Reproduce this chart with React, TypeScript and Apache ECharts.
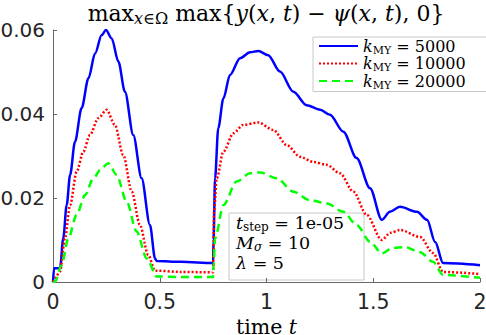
import React, { useEffect, useRef } from "react";
import * as echarts from "echarts";

// time grids and values
const tBlue = [0, 0.005, 0.033, 0.048, 0.064, 0.08, 0.103, 0.134, 0.166, 0.197, 0.228, 0.248, 0.275, 0.306, 0.337, 0.376, 0.415, 0.454, 0.478, 0.486, 0.6, 0.75, 0.752, 0.759, 0.774, 0.798, 0.829, 0.876, 0.923, 0.962, 1.008, 1.063, 1.126, 1.188, 1.251, 1.297, 1.36, 1.422, 1.485, 1.54, 1.578, 1.625, 1.705, 1.752, 1.79, 1.827, 2.0];
const kMY5000 = [0, 0.0033, 0.0033, 0.0104, 0.0183, 0.0255, 0.0334, 0.0414, 0.0485, 0.0544, 0.0588, 0.06, 0.058, 0.0525, 0.0453, 0.035, 0.0247, 0.0136, 0.0056, 0.005, 0.0048, 0.0045, 0.01, 0.0247, 0.0366, 0.0437, 0.0493, 0.0533, 0.0547, 0.055, 0.054, 0.0501, 0.0453, 0.0421, 0.041, 0.0398, 0.0358, 0.0295, 0.0223, 0.0148, 0.0167, 0.0179, 0.0167, 0.0148, 0.0095, 0.0045, 0.004];

const tRed = [0, 0.01, 0.033, 0.056, 0.08, 0.111, 0.142, 0.173, 0.212, 0.251, 0.29, 0.329, 0.369, 0.407, 0.446, 0.478, 0.6, 0.75, 0.752, 0.754, 0.767, 0.798, 0.845, 0.891, 0.962, 1.032, 1.095, 1.157, 1.219, 1.282, 1.344, 1.407, 1.469, 1.54, 1.58, 1.625, 1.72, 1.78, 1.827, 2.0];
const kMY10000 = [0, 0.001, 0.0025, 0.0104, 0.0183, 0.0263, 0.031, 0.035, 0.039, 0.041, 0.0374, 0.0302, 0.0215, 0.0136, 0.0064, 0.0027, 0.0024, 0.0023, 0.008, 0.0167, 0.0247, 0.031, 0.0354, 0.0374, 0.038, 0.0362, 0.0326, 0.0298, 0.0286, 0.0279, 0.0259, 0.0215, 0.016, 0.01, 0.0117, 0.0124, 0.0107, 0.0069, 0.0024, 0.0019];

const tGreen = [0, 0.009, 0.04, 0.072, 0.111, 0.15, 0.189, 0.228, 0.259, 0.298, 0.345, 0.392, 0.439, 0.486, 0.6, 0.75, 0.752, 0.759, 0.798, 0.86, 0.923, 0.97, 1.048, 1.126, 1.204, 1.282, 1.36, 1.422, 1.485, 1.54, 1.59, 1.649, 1.719, 1.78, 1.827, 2.0];
const kMY20000 = [0, 0, 0.004, 0.0104, 0.016, 0.0207, 0.0247, 0.0271, 0.0283, 0.0255, 0.0191, 0.012, 0.0056, 0.0013, 0.0012, 0.0012, 0.004, 0.0104, 0.0183, 0.0239, 0.0259, 0.0261, 0.0247, 0.0215, 0.0195, 0.0187, 0.0167, 0.0136, 0.0096, 0.0068, 0.0081, 0.0083, 0.0071, 0.0048, 0.0017, 0.001];

const seriesNames = ["5000", "10000", "20000"];
const xTicks = [0, 0.5, 1, 1.5, 2];
const yTicks = [0, 0.02, 0.04, 0.06];
const annotationLines = ["{i|t}{s|step}{r| = 1e-05}", "{i|M}{si|σ}{r| = 10}", "{i|λ}{r| = 5}"];

const SERIF = "'DejaVu Serif', 'Liberation Serif', serif";
const SANS = "'DejaVu Sans', 'Liberation Sans', sans-serif";

export default function App() {
  const ref = useRef<HTMLDivElement>(null);
  useEffect(() => {
    const chart = echarts.init(ref.current!, null, { renderer: "svg" });
    const zip = (t: number[], v: number[]) => t.map((x, i) => [x, v[i]]);
    const main = (size: number, extra: any = {}) => ({ fontFamily: SERIF, fontSize: size, color: "#000", fill: "#000", lineHeight: size + 3, ...extra });
    const titleRich = {
      r: main(22, { lineHeight: 26 }),
      i: main(22, { fontStyle: "italic", lineHeight: 26 }),
      si: main(16, { fontStyle: "italic", lineHeight: 10, verticalAlign: "bottom" }),
      su: main(16, { lineHeight: 10, verticalAlign: "bottom" }),
    };
    const legRich = {
      k: main(16, { fontStyle: "italic", lineHeight: 19 }),
      s: main(11, { lineHeight: 7, verticalAlign: "bottom" }),
      e: main(16, { lineHeight: 19 }),
    };
    const annRich = {
      r: main(17.5, { lineHeight: 20 }),
      i: main(17.5, { fontStyle: "italic", lineHeight: 20 }),
      s: main(12, { lineHeight: 7, verticalAlign: "bottom" }),
      si: main(12, { fontStyle: "italic", lineHeight: 7, verticalAlign: "bottom" }),
    };
    const lineSeries = (name: string, data: number[][], color: string, type: any, width: number) => ({
      name,
      type: "line",
      data,
      symbol: "none",
      showSymbol: false,
      smooth: 0.3,
      smoothMonotone: "x",
      lineStyle: { color, width, type },
      itemStyle: { color },
      z: 3,
    });
    chart.setOption({
      animation: false,
      grid: { left: 53, right: 6, top: 30, bottom: 53, containLabel: false, outerBoundsMode: "none" },
      xAxis: {
        type: "value",
        min: xTicks[0],
        max: xTicks[xTicks.length - 1],
        interval: 0.5,
        name: "{u|time }{i|t}",
        nameLocation: "middle",
        nameGap: 28,
        nameTextStyle: { rich: { u: main(20.5, { lineHeight: 21 }), i: main(20.5, { fontStyle: "italic", lineHeight: 21 }) } },
        axisLine: { lineStyle: { color: "#666", width: 1 } },
        axisTick: { inside: true, length: 4, lineStyle: { color: "#666" } },
        axisLabel: { fontFamily: SANS, fontSize: 20.5, color: "#262626", margin: 9, formatter: (v: number) => String(v) },
        splitLine: { show: false },
      },
      yAxis: {
        type: "value",
        min: yTicks[0],
        max: yTicks[yTicks.length - 1],
        interval: 0.02,
        axisLine: { show: true, lineStyle: { color: "#666", width: 1 } },
        axisTick: { show: true, inside: true, length: 4, lineStyle: { color: "#666" } },
        axisLabel: { fontFamily: SANS, fontSize: 20, color: "#262626", margin: 8, formatter: (v: number) => (v === 0 ? "0" : v.toFixed(2)) },
        splitLine: { show: false },
      },
      legend: {
        orient: "vertical",
        left: 313,
        top: 37,
        backgroundColor: "#fff",
        borderColor: "#c8c8c8",
        borderWidth: 1,
        borderRadius: 0,
        padding: [1, 24, 1, 5],
        itemWidth: 39,
        itemHeight: 14,
        itemGap: 0,
        itemStyle: { opacity: 0, borderWidth: 0 },
        data: seriesNames,
        formatter: (n: string) => `{k|k}{s|MY}{e| = ${n}}`,
        textStyle: { rich: legRich },
      },
      graphic: [
        {
          type: "text",
          x: 266,
          y: 13,
          style: {
            text: "{r|max}{si|x}{su|∈Ω}{r| max\{}{i|y}{r|(}{i|x}{r|, }{i|t}{r|) − }{i|ψ}{r|(}{i|x}{r|, }{i|t}{r|), 0}}",
            rich: titleRich,
            font: `22px ${SERIF}`,
            fill: "#000",
            align: "center",
            verticalAlign: "middle",
          },
        },
        {
          type: "group",
          z: 100,
          children: [
            { type: "rect", shape: { x: 229, y: 213, width: 135, height: 67 }, style: { fill: "#fff", stroke: "#c8c8c8", lineWidth: 1 } },
            { type: "text", x: 236, y: 213, style: { text: annotationLines.join("\n"), rich: annRich, verticalAlign: "top" } },
          ],
        },
      ],
      series: [
        lineSeries(seriesNames[0], zip(tBlue, kMY5000), "#0000ff", "solid", 2.5),
        lineSeries(seriesNames[1], zip(tRed, kMY10000), "#ff0000", [2, 2], 2.5),
        lineSeries(seriesNames[2], zip(tGreen, kMY20000), "#00ff00", [8, 5], 2.5),
      ],
    });
    return () => chart.dispose();
  }, []);
  return <div ref={ref} style={{ width: 486, height: 335, position: "absolute", left: 0, top: 0 }} />;
}
